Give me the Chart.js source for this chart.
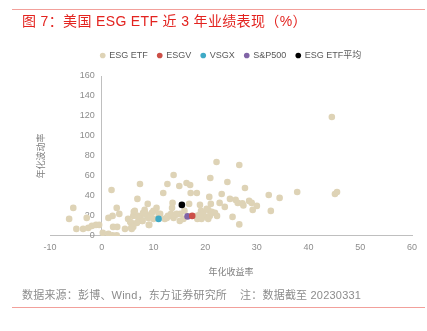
<!DOCTYPE html>
<html>
<head>
<meta charset="utf-8">
<script src="https://cdn.jsdelivr.net/npm/chart.js@4/dist/chart.umd.min.js"></script>
<style>
  body { margin: 0; background: #fff; }
  #wrap { position: relative; width: 427px; height: 331px; font-family: "Liberation Sans", "Noto Sans CJK SC", sans-serif; }
  #chart { position: absolute; left: 0; top: 0; }
  .rule { position: absolute; left: 12px; width: 413px; height: 1px; background: #f2a09b; }
  #title { position: absolute; left: 22px; top: 14px; font-size: 14px; line-height: 14px; color: #e3231f; white-space: pre; letter-spacing: 0.35px; }
  #note { position: absolute; left: 22px; top: 290px; font-size: 11px; line-height: 11px; color: #8c8c8c; white-space: pre; letter-spacing: 0.2px; }
</style>
</head>
<body>
<div id="wrap">
  <canvas id="chart" width="427" height="331"></canvas>
  <div class="rule" style="top:9px"></div>
  <div id="title">图 7：美国 ESG ETF 近 3 年业绩表现（%）</div>
  <div id="note">数据来源：彭博、Wind，东方证券研究所    注：数据截至 20230331</div>
  <div class="rule" style="top:307px"></div>
</div>
<script>
// ESG ETF scatter: annualised return (x) vs annualised volatility (y)
const etfReturn = [
  -6.3, -5.5, -4.9, -3.6, -2.9, -2.6, -1.9, -1.1, -0.5, 0.2, 1.3, 2.1, 2.9,
  1.3, 2.1, 1.9, 2.9, 3.4, 2.2, 3.0, 4.5, 5.1, 5.5, 5.7, 6.2, 6.9, 7.4,
  7.0, 7.5, 8.0, 8.3, 8.6, 9.0, 7.8, 7.2, 8.9, 9.2, 10.0, 10.6, 11.0, 11.9,
  12.2, 12.8, 13.4, 13.6, 13.9, 14.3, 12.7, 13.9, 13.7,
  15.0, 16.4, 17.1, 17.2, 18.4, 16.9, 15.2, 15.8, 16.0, 18.5, 18.9, 19.2, 19.0,
  19.6, 20.2, 20.6, 20.9, 21.3, 20.8, 21.0, 22.2, 22.8, 23.2, 23.8, 24.3, 24.8,
  25.3, 25.9, 26.3, 26.6, 26.6, 27.7, 27.2, 27.4, 28.5, 29.0, 30.0, 29.2,
  32.3, 32.7, 34.4, 37.8, 44.5, 45.1, 45.5, 21.1,
  6.1, 7.1, 5.7, 6.8, 7.9, 10.0, 6.4, 8.4, 9.7, 11.3, 12.6, 13.5, 14.5, 15.1,
  18.4, 19.3, 20.6, 20.3, 21.9, 22.3, 6.1, 5.8, 9.1
];
const etfVol = [
  17, 28, 7, 7, 18, 8, 10, 11, 11, 3, 2, 0.5, 0.5,
  18, 20, 46, 28, 22, 9, 9, 7, 17, 14, 8, 24, 37, 52,
  20, 18, 23, 26, 21, 18, 15, 15, 32, 11, 25, 28, 22, 43,
  17, 20, 22, 28, 18, 21, 52, 61, 33,
  50, 53, 51, 43, 43, 32, 22, 17, 25, 17, 21, 25, 31,
  22, 19, 26, 20, 24, 39, 58, 74, 33, 42, 29, 54, 37,
  19, 36, 33, 71, 11.5, 48, 32.5, 30.5, 35, 33, 30, 26,
  41, 25, 38, 44, 119, 42, 44, 32,
  20, 18, 13, 13, 15, 17, 25, 23, 23, 22, 18, 20, 22, 15,
  20, 17, 17, 27, 23, 20, 9, 7, 11
];

const seriesNames = ['ESG ETF', 'ESGV', 'VSGX', 'S&P500', 'ESG ETF平均'];
// single points: [return, volatility]
const esgv = [17.5, 20];
const vsgx = [11.0, 17];
const sp500 = [16.6, 19.5];
const etfAvg = [15.5, 31];

const xTicks = [-10, 60, 10];   // min, max, step
const yTicks = [0, 160, 20];

const fontFamily = '"Liberation Sans", "Noto Sans CJK SC", sans-serif';
Chart.defaults.font.family = fontFamily;
Chart.defaults.font.size = 9;

// a bit more room under the legend
const legendGap = {
  id: 'legendGap',
  beforeInit(chart) {
    const fit = chart.legend.fit;
    chart.legend.fit = function () {
      fit.call(this);
      this.height += 6;
    };
  }
};

// y axis sits at x = 0; chart.js puts its labels flush on the line, so nudge them left
const yLabelGap = {
  id: 'yLabelGap',
  beforeDraw(chart) {
    const items = chart.scales.y.getLabelItems();
    if (items._shifted) return;
    items.forEach(it => { it.options.translation[0] -= 7; });
    items._shifted = true;
  }
};

const yTitle = {
  id: 'yTitle',
  afterDraw(chart) {
    const { ctx, chartArea } = chart;
    ctx.save();
    ctx.translate(chartArea.left - 8, (chartArea.top + chartArea.bottom) / 2);
    ctx.rotate(-Math.PI / 2);
    ctx.textAlign = 'center';
    ctx.textBaseline = 'middle';
    ctx.font = '9px ' + fontFamily;
    ctx.fillStyle = '#7f7f7f';
    ctx.fillText('年化波动率', 0, 0);
    ctx.restore();
  }
};

const pt = (p) => [{ x: p[0], y: p[1] }];

new Chart(document.getElementById('chart'), {
  type: 'scatter',
  data: {
    datasets: [
      {
        label: seriesNames[0],
        data: etfReturn.map((x, i) => ({ x: x, y: etfVol[i] })),
        backgroundColor: '#ded3b6',
        borderWidth: 0,
        pointRadius: 3.3,
        order: 1
      },
      { label: seriesNames[1], data: pt(esgv), backgroundColor: '#cc4f47', borderWidth: 0, pointRadius: 3.3, order: 0 },
      { label: seriesNames[2], data: pt(vsgx), backgroundColor: '#3faac6', borderWidth: 0, pointRadius: 3.3, order: 0 },
      { label: seriesNames[3], data: pt(sp500), backgroundColor: '#8064a6', borderWidth: 0, pointRadius: 3.3, order: 0 },
      { label: seriesNames[4], data: pt(etfAvg), backgroundColor: '#000000', borderWidth: 0, pointRadius: 3.3, order: 0 }
    ]
  },
  options: {
    responsive: false,
    animation: false,
    layout: { padding: { left: 50, right: 15, top: 41, bottom: 53 } },
    plugins: {
      legend: {
        position: 'top',
        labels: {
          usePointStyle: true,
          pointStyle: 'circle',
          boxWidth: 4,
          boxHeight: 4,
          padding: 10,
          color: '#595959',
          sort: (a, b) => a.datasetIndex - b.datasetIndex
        }
      },
      tooltip: { enabled: false }
    },
    scales: {
      x: {
        type: 'linear',
        min: xTicks[0],
        max: xTicks[1],
        ticks: { stepSize: xTicks[2], padding: 6, color: '#8c8c8c' },
        grid: { display: false, drawTicks: false },
        border: { color: '#bfbfbf' },
        title: { display: true, text: '年化收益率', color: '#7f7f7f', padding: { top: 8.5, bottom: 0 } }
      },
      y: {
        min: yTicks[0],
        max: yTicks[1],
        position: { x: 0 },
        ticks: { stepSize: yTicks[2], padding: 7, color: '#8c8c8c' },
        grid: { display: false, drawTicks: false },
        border: { color: '#bfbfbf' }
      }
    }
  },
  plugins: [legendGap, yLabelGap, yTitle]
});
</script>
</body>
</html>
